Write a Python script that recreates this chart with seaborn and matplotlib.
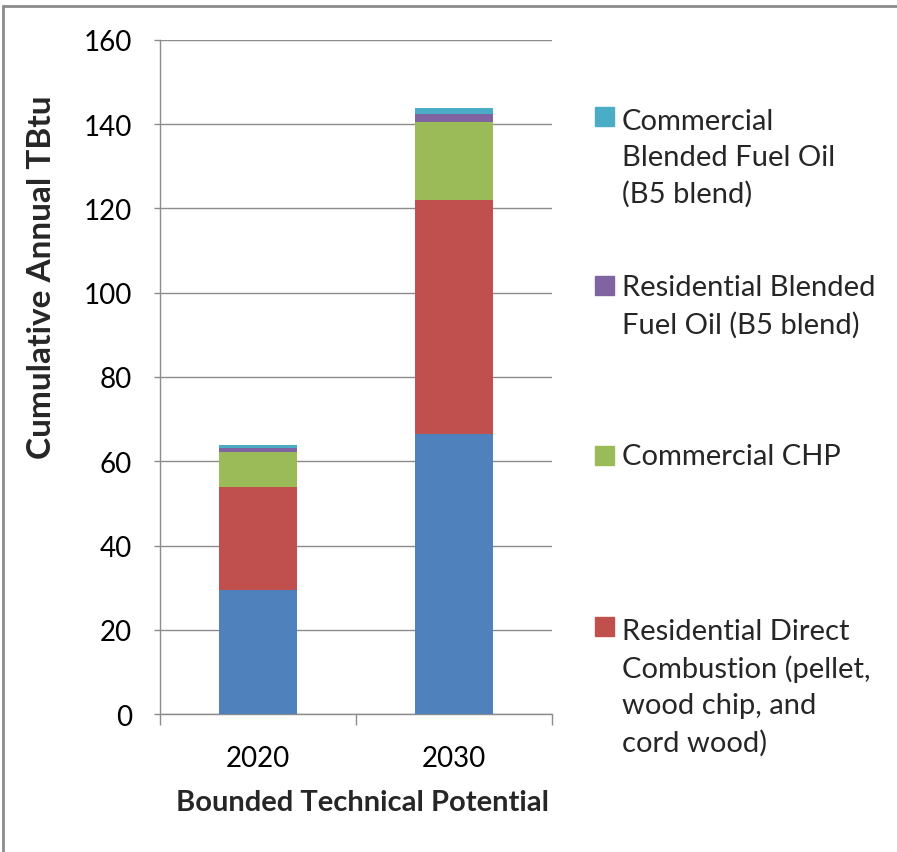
import matplotlib
matplotlib.use("Agg")
import matplotlib.pyplot as plt
import seaborn as sns
import pandas as pd
import numpy as np
from matplotlib.patches import Rectangle
from matplotlib.lines import Line2D

# datos (TBtu)
years = ["2020", "2030"]
series = ["Commercial Direct Combustion",
          "Residential Direct Combustion",
          "Commercial CHP",
          "Residential Blended Fuel Oil",
          "Commercial Blended Fuel Oil"]
com_direct = [29.4, 66.5]
res_direct = [24.6, 55.6]
com_chp = [8.1, 18.5]
res_oil = [1.0, 1.8]
com_oil = [0.7, 1.5]
colors = ["#4F81BD", "#C0504D", "#9BBB59", "#8064A2", "#4BACC6"]

# etiquetas de la leyenda (la serie azul no aparece en el original)
legend_labels = ["Commercial\nBlended Fuel Oil\n(B5 blend)",
                 "Residential Blended\nFuel Oil (B5 blend)",
                 "Commercial CHP",
                 "Residential Direct\nCombustion (pellet,\nwood chip, and\ncord wood)"]
legend_series = [4, 3, 2, 1]

df = pd.DataFrame({"Year": years,
                   series[0]: com_direct,
                   series[1]: res_direct,
                   series[2]: com_chp,
                   series[3]: res_oil,
                   series[4]: com_oil})

sns.set_theme(style="white")
plt.rcParams["font.family"] = ["Lato", "DejaVu Sans"]

W, H = 897, 853
fig = plt.figure(figsize=(W / 100, H / 100), dpi=100)
ax = fig.add_axes([160 / W, 1 - 715 / H, 392 / W, 674 / H])

# apilado: se dibujan las sumas acumuladas de arriba hacia abajo
cum = df[series].cumsum(axis=1)
for i in reversed(range(len(series))):
    sns.barplot(x=df["Year"], y=cum[series[i]], color=colors[i], width=0.4,
                saturation=1, linewidth=0, ax=ax, zorder=3)

ax.set_xlabel("")
ax.set_ylabel("")
ax.set_xlim(-0.5, 1.5)
ax.set_ylim(0, 160)
ax.set_yticks(np.arange(0, 161, 20))
ax.yaxis.grid(True, color="#8c8c8c", linewidth=1.0, zorder=0)
ax.set_axisbelow(True)
for s in ["top", "right"]:
    ax.spines[s].set_visible(False)
for s in ["left", "bottom"]:
    ax.spines[s].set_color("#8c8c8c")
    ax.spines[s].set_linewidth(1.0)

ax.tick_params(axis="y", length=4, width=1, color="#8c8c8c", pad=16,
               labelsize=20, labelcolor="#000000", left=True)
ax.tick_params(axis="x", which="major", length=0, pad=22, labelsize=20,
               labelcolor="#000000")
ax.set_xticks([-0.5, 0.5, 1.5], minor=True)
ax.tick_params(axis="x", which="minor", length=8, width=1, color="#8c8c8c",
               bottom=True)

# titulos de ejes
fig.text(42 / W, 1 - 277 / H, "Cumulative Annual TBtu", rotation=90,
         ha="center", va="center", fontsize=24, fontweight="bold")
fig.text(362 / W, 1 - 803 / H, "Bounded Technical Potential",
         ha="center", va="center", fontsize=21, fontweight="bold")

# leyenda manual (estilo Excel: marcador en la primera linea)
baselines = [126, 295, 465, 636]
pitch = 38.5
for lab, si, yb in zip(legend_labels, legend_series, baselines):
    fig.add_artist(Rectangle((595 / W, 1 - (yb + 1) / H), 19 / W, 19 / H,
                             transform=fig.transFigure, color=colors[si]))
    n = lab.count("\n")
    fig.text(622 / W, 1 - (yb + n * pitch) / H, lab, ha="left",
             va="baseline", fontsize=21, linespacing=1.48)

# marco del grafico
fig.add_artist(Line2D([3 / W, 3 / W], [0, 1 - 7 / H], color="#8c8c8c",
                      linewidth=2, transform=fig.transFigure))
fig.add_artist(Line2D([3 / W, 1], [1 - 7 / H, 1 - 7 / H], color="#8c8c8c",
                      linewidth=2, transform=fig.transFigure))

fig.savefig("out.png", dpi=100)
plt.close(fig)
